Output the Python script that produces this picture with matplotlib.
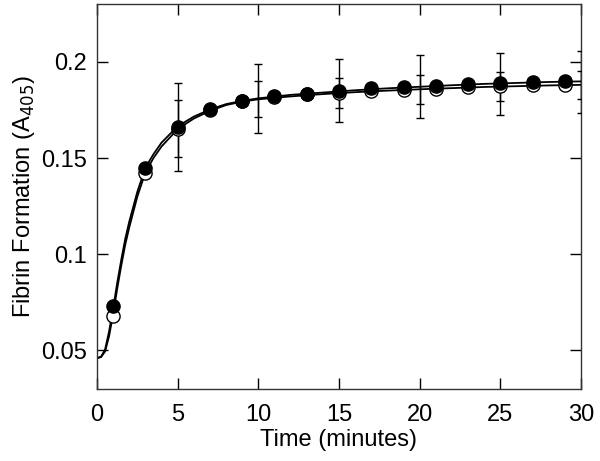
import numpy as np
import matplotlib.pyplot as plt

plt.rcParams['font.family'] = ['Liberation Sans', 'DejaVu Sans']

# measured points (odd minutes)
t_pts = [1, 3, 5, 7, 9, 11, 13, 15, 17, 19, 21, 23, 25, 27, 29]
filled_y = [0.0733, 0.145, 0.1662, 0.1754, 0.1798, 0.1821, 0.1835, 0.1848,
            0.1864, 0.1869, 0.1876, 0.1883, 0.1888, 0.1893, 0.1900]
open_y = [0.0678, 0.1424, 0.1650, 0.1750, 0.1795, 0.1818, 0.1832, 0.1840,
          0.1850, 0.1854, 0.1859, 0.1868, 0.1874, 0.1878, 0.1880]

# fitted curves
t_fit = [0, 0.25, 0.5, 0.75, 1, 1.25, 1.5, 1.75, 2, 2.5, 3, 3.5, 4, 5, 6, 7, 8,
         9, 10, 12, 14, 16, 18, 20, 22, 24, 26, 28, 30]
filled_fit = [0.046, 0.0468, 0.0505, 0.060, 0.072, 0.085, 0.097, 0.108, 0.117,
              0.1325, 0.145, 0.152, 0.158, 0.1665, 0.1715, 0.1752, 0.178,
              0.1797, 0.181, 0.1828, 0.184, 0.1852, 0.1862, 0.187, 0.1878,
              0.1885, 0.189, 0.1895, 0.1898]
open_fit = [0.046, 0.0466, 0.0495, 0.0575, 0.069, 0.082, 0.094, 0.105, 0.114,
            0.130, 0.1425, 0.150, 0.156, 0.165, 0.1705, 0.1745, 0.1775,
            0.1793, 0.1805, 0.182, 0.1832, 0.1842, 0.185, 0.1857, 0.1863,
            0.1869, 0.1873, 0.1877, 0.188]

# error bars every 5 minutes
t_err = [5, 10, 15, 20, 25, 30]
filled_err_y = [0.1662, 0.1809, 0.1849, 0.1870, 0.1885, 0.1895]
filled_err = [0.0227, 0.0178, 0.0164, 0.0163, 0.0162, 0.0162]
open_err_y = [0.1652, 0.1806, 0.1840, 0.1856, 0.1870, 0.1880]
open_err = [0.0148, 0.0092, 0.0078, 0.0075, 0.0075, 0.0074]

fig = plt.figure(figsize=(6, 4.61), dpi=100)
ax = fig.add_axes([0.1617, 0.1562, 0.8066, 0.8351])

ax.plot(t_fit, open_fit, color='black', lw=1.3, zorder=2)
ax.plot(t_fit, filled_fit, color='black', lw=1.3, zorder=2)

ax.errorbar(t_err, filled_err_y, yerr=filled_err, fmt='none', ecolor='black',
            elinewidth=1, capsize=3, capthick=1, zorder=3)
ax.errorbar(t_err, open_err_y, yerr=open_err, fmt='none', ecolor='black',
            elinewidth=1, capsize=3, capthick=1, zorder=3)

ax.plot(t_pts, open_y, 'o', ms=9.5, mfc='white', mec='black', mew=1, zorder=4)
ax.plot(t_pts, filled_y, 'o', ms=9.5, mfc='black', mec='black', zorder=5)

ax.set_xlim(0, 30)
ax.set_ylim(0.03, 0.23)
ax.set_xticks([0, 5, 10, 15, 20, 25, 30])
ax.set_yticks([0.05, 0.1, 0.15, 0.2])
ax.set_yticklabels(['0.05', '0.1', '0.15', '0.2'])
ax.tick_params(direction='in', length=8, width=1, top=True, right=True,
               labelsize=17)
ax.tick_params(axis='x', pad=11)
ax.tick_params(axis='y', pad=7)
for s in ax.spines.values():
    s.set_linewidth(1)
    s.set_color('#333333')

ax.set_xlabel('Time (minutes)', fontsize=17, labelpad=2)
ax.set_ylabel('Fibrin Formation (A$_{405}$)', fontsize=17, labelpad=3)

fig.savefig('out.png', dpi=100)
